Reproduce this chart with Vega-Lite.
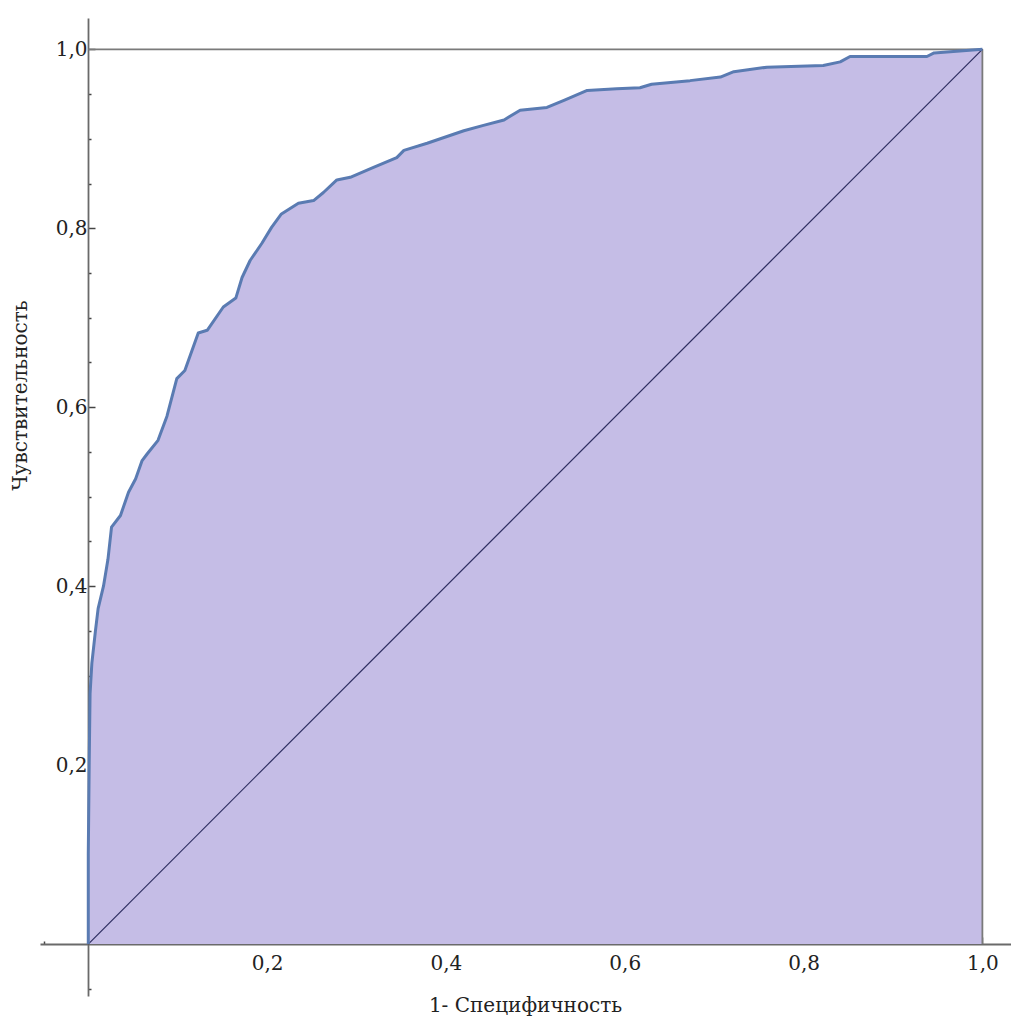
{
  "$schema": "https://vega.github.io/schema/vega-lite/v6.json",
  "width": 971,
  "height": 978,
  "autosize": {"type": "none"},
  "padding": {"left": 40, "top": 18, "right": 0, "bottom": 28},
  "background": "white",
  "config": {"view": {"stroke": null}, "font": "DejaVu Serif"},
  "datasets": {
    "roc": [
      {"fpr": 0, "tpr": 0}, {"fpr": 0, "tpr": 0.1}, {"fpr": 0.001, "tpr": 0.2}, {"fpr": 0.002, "tpr": 0.28},
      {"fpr": 0.004, "tpr": 0.314}, {"fpr": 0.008, "tpr": 0.35}, {"fpr": 0.011, "tpr": 0.375}, {"fpr": 0.017, "tpr": 0.4},
      {"fpr": 0.022, "tpr": 0.43}, {"fpr": 0.026, "tpr": 0.466}, {"fpr": 0.036, "tpr": 0.479}, {"fpr": 0.045, "tpr": 0.505},
      {"fpr": 0.053, "tpr": 0.52}, {"fpr": 0.06, "tpr": 0.54}, {"fpr": 0.066, "tpr": 0.548}, {"fpr": 0.078, "tpr": 0.563},
      {"fpr": 0.088, "tpr": 0.59}, {"fpr": 0.099, "tpr": 0.632}, {"fpr": 0.108, "tpr": 0.641}, {"fpr": 0.123, "tpr": 0.683},
      {"fpr": 0.133, "tpr": 0.686}, {"fpr": 0.151, "tpr": 0.712}, {"fpr": 0.165, "tpr": 0.722}, {"fpr": 0.172, "tpr": 0.745},
      {"fpr": 0.181, "tpr": 0.764}, {"fpr": 0.194, "tpr": 0.783}, {"fpr": 0.205, "tpr": 0.801}, {"fpr": 0.216, "tpr": 0.816},
      {"fpr": 0.235, "tpr": 0.828}, {"fpr": 0.252, "tpr": 0.831}, {"fpr": 0.263, "tpr": 0.84}, {"fpr": 0.278, "tpr": 0.854},
      {"fpr": 0.293, "tpr": 0.857}, {"fpr": 0.319, "tpr": 0.868}, {"fpr": 0.345, "tpr": 0.879}, {"fpr": 0.353, "tpr": 0.887},
      {"fpr": 0.379, "tpr": 0.895}, {"fpr": 0.42, "tpr": 0.909}, {"fpr": 0.442, "tpr": 0.915}, {"fpr": 0.465, "tpr": 0.921},
      {"fpr": 0.483, "tpr": 0.932}, {"fpr": 0.513, "tpr": 0.935}, {"fpr": 0.532, "tpr": 0.943}, {"fpr": 0.558, "tpr": 0.954},
      {"fpr": 0.591, "tpr": 0.956}, {"fpr": 0.617, "tpr": 0.957}, {"fpr": 0.63, "tpr": 0.961}, {"fpr": 0.673, "tpr": 0.965},
      {"fpr": 0.707, "tpr": 0.969}, {"fpr": 0.722, "tpr": 0.975}, {"fpr": 0.759, "tpr": 0.98}, {"fpr": 0.822, "tpr": 0.982},
      {"fpr": 0.841, "tpr": 0.986}, {"fpr": 0.852, "tpr": 0.992}, {"fpr": 0.938, "tpr": 0.992}, {"fpr": 0.946, "tpr": 0.996},
      {"fpr": 1, "tpr": 1}
    ],
    "lines": [
      {"kind": "top", "x1": 0, "x2": 1, "y1": 1, "y2": 1},
      {"kind": "right", "x1": 1, "x2": 1, "y1": 0, "y2": 1}
    ],
    "diag": [
      {"x1": 0, "x2": 1, "y1": 0, "y2": 1}
    ]
  },
  "layer": [
    {
      "data": {"name": "roc"},
      "mark": {"type": "area", "color": "#c5bde6", "opacity": 1},
      "encoding": {
        "x": {
          "field": "fpr", "type": "quantitative",
          "scale": {"domain": [-0.054, 1.032], "nice": false, "zero": false},
          "axis": {
            "offset": -52,
            "values": [-0.05, 0.05, 0.1, 0.15, 0.2, 0.25, 0.3, 0.35, 0.4, 0.45, 0.5, 0.55, 0.6, 0.65, 0.7, 0.75, 0.8, 0.85, 0.9, 0.95, 1.0],
            "labelExpr": "(datum.value > 0.01 && abs(datum.value*5 - round(datum.value*5)) < 0.001) ? replace(format(datum.value, '.1f'), '.', ',') : ''",
            "labelFont": "DejaVu Serif", "labelFontSize": 20, "labelColor": "#222",
            "labelOverlap": false, "labelFlush": false, "labelPadding": 16,
            "domainColor": "#6a6a6a", "domainWidth": 1.8,
            "tickColor": "#444", "tickWidth": 1.5,
            "tickSize": {"condition": {"test": "abs(datum.value*5 - round(datum.value*5)) < 0.001", "value": -7}, "value": -3},
            "grid": false,
            "title": "1- Специфичность",
            "titleFont": "DejaVu Serif", "titleFontSize": 20, "titleFontWeight": "normal", "titleColor": "#222",
            "titleX": 485, "titleY": 61, "titleAlign": "center", "titleBaseline": "middle"
          }
        },
        "y": {
          "field": "tpr", "type": "quantitative",
          "scale": {"domain": [-0.058, 1.035], "nice": false, "zero": false},
          "axis": {
            "offset": -48,
            "values": [-0.05, 0.05, 0.1, 0.15, 0.2, 0.25, 0.3, 0.35, 0.4, 0.45, 0.5, 0.55, 0.6, 0.65, 0.7, 0.75, 0.8, 0.85, 0.9, 0.95, 1.0],
            "labelExpr": "(datum.value > 0.01 && abs(datum.value*5 - round(datum.value*5)) < 0.001) ? replace(format(datum.value, '.1f'), '.', ',') : ''",
            "labelFont": "DejaVu Serif", "labelFontSize": 20, "labelColor": "#222",
            "labelOverlap": false, "labelFlush": false, "labelPadding": 8,
            "domainColor": "#6a6a6a", "domainWidth": 1.8,
            "tickColor": "#444", "tickWidth": 1.5,
            "tickSize": {"condition": {"test": "abs(datum.value*5 - round(datum.value*5)) < 0.001", "value": -7}, "value": -3},
            "grid": false,
            "title": "Чувствительность",
            "titleFont": "DejaVu Serif", "titleFontSize": 20, "titleFontWeight": "normal", "titleColor": "#222",
            "titleX": -68, "titleY": 377, "titleAlign": "center", "titleBaseline": "middle", "titleAngle": -90
          }
        },
        "y2": {"datum": 0}
      }
    },
    {
      "data": {"name": "lines"},
      "mark": {"type": "rule", "color": "#7a7a7a", "strokeWidth": 1.8},
      "encoding": {
        "x": {"field": "x1", "type": "quantitative"},
        "x2": {"field": "x2"},
        "y": {"field": "y1", "type": "quantitative"},
        "y2": {"field": "y2"}
      }
    },
    {
      "data": {"name": "diag"},
      "mark": {"type": "rule", "color": "#2e2e60", "strokeWidth": 1.2},
      "encoding": {
        "x": {"field": "x1", "type": "quantitative"},
        "x2": {"field": "x2"},
        "y": {"field": "y1", "type": "quantitative"},
        "y2": {"field": "y2"}
      }
    },
    {
      "data": {"name": "roc"},
      "mark": {"type": "line", "color": "#5a7bb2", "strokeWidth": 3, "strokeJoin": "round"},
      "encoding": {
        "x": {"field": "fpr", "type": "quantitative"},
        "y": {"field": "tpr", "type": "quantitative"}
      }
    }
  ]
}
